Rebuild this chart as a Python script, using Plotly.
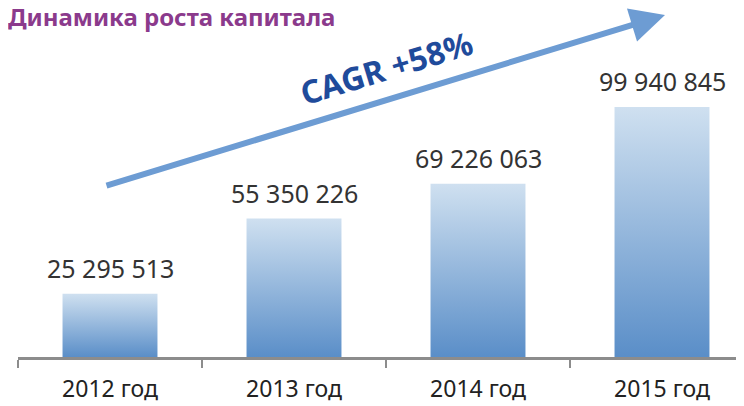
import plotly.graph_objects as go

title_text = "Динамика роста капитала"
years = ["2012 год", "2013 год", "2014 год", "2015 год"]
capital = [25295513, 55350226, 69226063, 99940845]
cagr_label = "CAGR +58%"

FONT = "Noto Sans"
OFF = 8  # page body margin
W, H = 744 - OFF, 406 - OFF
L, R, T, B = 18 - OFF, 0, 40 - OFF, 49
half = 0.258

fig = go.Figure()
for i, v in enumerate(capital):
    fig.add_trace(go.Scatter(
        x=[i - half, i + half, i + half, i - half, i - half],
        y=[0, 0, v, v, 0],
        mode="lines", line=dict(width=0), fill="toself",
        fillgradient=dict(type="vertical", start=0, stop=v,
                          colorscale=[[0, "#5a8ec8"], [1, "#cfe0f0"]]),
        hoverinfo="skip", showlegend=False,
    ))
    fig.add_annotation(x=i, y=v, xref="x", yref="y", text=f"{v:,}".replace(",", " "),
                       showarrow=False, yanchor="bottom", yshift=7,
                       font=dict(family=FONT, size=25, color="#333333"))

pw = W - L - R
ph = H - T - B
def px_x(p):
    return (p - OFF - L) / pw
def px_y(p):
    return (H - B - (p - OFF)) / ph

# trend arrow
fig.add_annotation(x=px_x(665), y=px_y(15), xref="paper", yref="paper",
                   ax=105 - 665, ay=186 - 15, axref="pixel", ayref="pixel",
                   text="", showarrow=True, arrowhead=2, arrowsize=1.15,
                   arrowwidth=6, arrowcolor="#6d9cd3")
fig.add_annotation(x=px_x(386), y=px_y(67), xref="paper", yref="paper",
                   xanchor="center", yanchor="middle",
                   text=f"<b>{cagr_label}</b>", showarrow=False,
                   textangle=-17, font=dict(family=FONT, size=32, color="#1f4b9b"))

fig.update_layout(
    width=W, height=H,
    margin=dict(l=L, r=R, t=T, b=B),
    paper_bgcolor="white", plot_bgcolor="white",
    title=dict(text=f"<b>{title_text}</b>", x=0, xanchor="left",
               y=1 - (18 - OFF) / H, yanchor="middle", xref="container", yref="container",
               font=dict(family=FONT, size=24, color="#8b3a8c")),
    xaxis=dict(range=[-0.5, -0.5 + pw / 184], tickvals=list(range(len(years))),
               ticktext=years, ticks="", showgrid=False, zeroline=False,
               showline=True, linecolor="#8c8c8c", linewidth=3,
               ticklabelstandoff=9,
               tickfont=dict(family=FONT, size=23, color="#222222"),
               minor=dict(ticks="outside", tick0=-0.5, dtick=1, ticklen=8,
                          tickwidth=2, tickcolor="#8c8c8c", showgrid=False)),
    yaxis=dict(range=[0, ph / 2.5015e-6], visible=False, showgrid=False, zeroline=False),
)
fig.write_html("out.html")
